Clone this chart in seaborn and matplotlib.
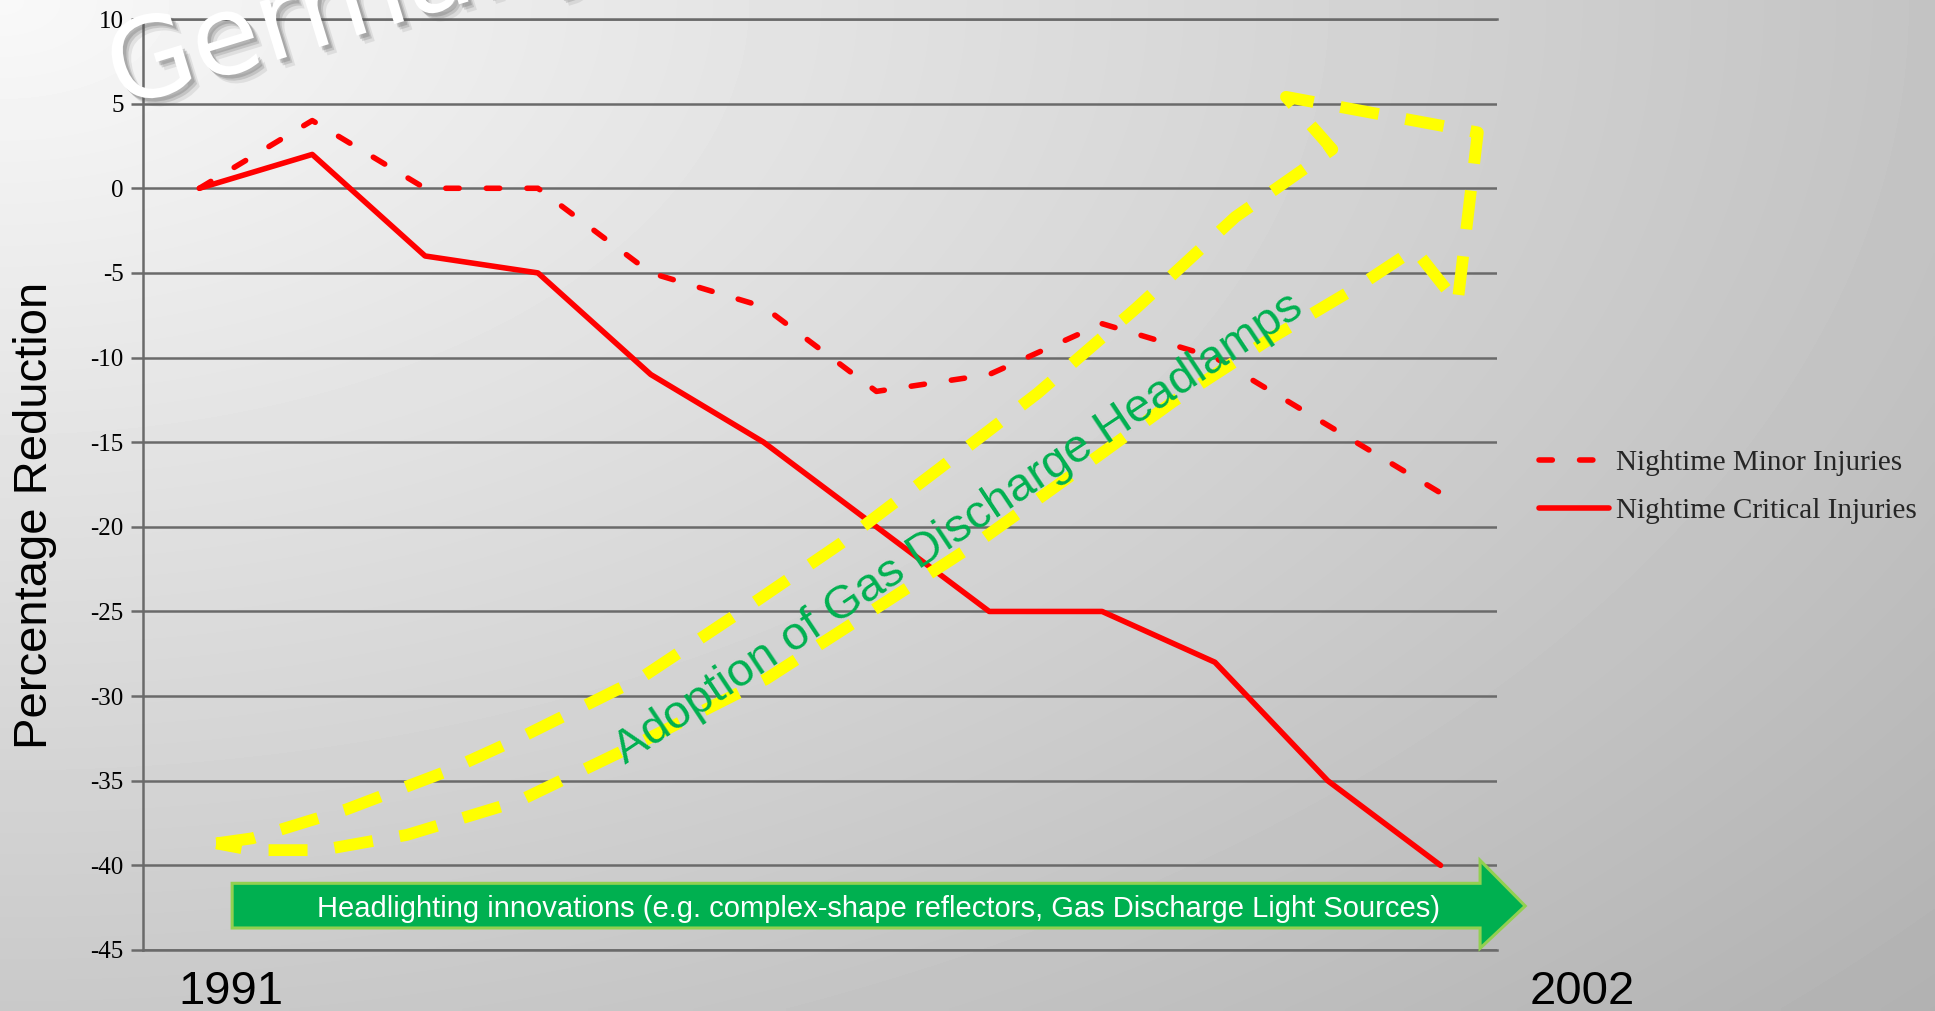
import numpy as np
import pandas as pd
import matplotlib
matplotlib.use("Agg")
import matplotlib.pyplot as plt
import matplotlib.patheffects as pe
from matplotlib.patches import Polygon, PathPatch
from matplotlib.path import Path
import seaborn as sns

# ---- data -------------------------------------------------------------
years = list(range(1991, 2003))
minor_injuries = [0, 4, 0, 0, -5, -7, -12, -11, -8, -10, -14, -18]
critical_injuries = [0, 2, -4, -5, -11, -15, -20, -25, -25, -28, -35, -40]
series_labels = ["Nightime Minor Injuries", "Nightime Critical Injuries"]
y_ticks = list(range(-45, 11, 5))
year_labels = ["1991", "2002"]
country = "Germany"
ylabel_text = "Percentage Reduction"
adoption_text = "Adoption of Gas Discharge Headlamps"
innovation_text = ("Headlighting innovations (e.g. complex-shape reflectors, "
                   "Gas Discharge Light Sources)")

df = pd.DataFrame({
    "year": years * 2,
    "value": minor_injuries + critical_injuries,
    "series": [series_labels[0]] * len(years) + [series_labels[1]] * len(years),
})

sns.set_theme(style="white")
plt.rcParams["font.family"] = ["Liberation Sans", "DejaVu Sans"]
plt.rcParams["axes.unicode_minus"] = False

W, H = 1935, 1011
fig = plt.figure(figsize=(W / 100, H / 100), dpi=100)

# ---- slide background: light radial gradient from the top-left corner ----
bg = fig.add_axes([0, 0, 1, 1], zorder=-10)
gx, gy = np.meshgrid(np.linspace(0, 1, 400), np.linspace(0, 1, 210))
dist = np.sqrt(gx ** 2 + (gy * 0.9) ** 2) / np.sqrt(1 + 0.81)
shade = 0.975 - 0.28 * dist
bg.imshow(shade, cmap="gray", vmin=0, vmax=1, aspect="auto",
          extent=[0, 1, 0, 1], origin="upper", interpolation="bilinear")
bg.set_axis_off()

# ---- main axes ----------------------------------------------------------
ax = fig.add_axes([143 / W, 1 - 950 / H, (1497 - 143) / W, (950 - 19) / H])
ax.patch.set_alpha(0)

red = "#ff0000"
for label, dash in zip(series_labels, [(2.4, 4.9), None]):
    sub = df[df["series"] == label]
    sns.lineplot(data=sub, x="year", y="value", ax=ax, color=red, lw=4.0,
                 label=label, zorder=3, legend=False)
    line = ax.lines[-1]
    line.set_solid_capstyle("round")
    line.set_dash_capstyle("round")
    line.set_solid_joinstyle("round")
    if dash is not None:
        line.set_dashes(dash)

ax.set_xlim(1990.5, 2002.5)
ax.set_ylim(-45, 10)
ax.set_yticks(y_ticks)
ax.set_xticks([])
ax.set_xlabel("")
ax.set_ylabel("")
grid_color = "#6a6a6a"
ax.yaxis.grid(True, color=grid_color, lw=1.8, zorder=1)
for side in ["top", "bottom", "left"]:
    ax.spines[side].set_color(grid_color)
    ax.spines[side].set_linewidth(1.8)
ax.spines["right"].set_visible(False)
ax.tick_params(axis="y", direction="out", length=9, width=1.8, color=grid_color,
               pad=5, labelsize=18, labelcolor="black", left=True)
for t in ax.get_yticklabels():
    t.set_fontfamily(["Liberation Serif", "DejaVu Serif"])

# ---- legend -------------------------------------------------------------
ax.legend(handles=ax.lines[:2], labels=series_labels, loc="center left",
          bbox_to_anchor=(1539 / W, 1 - 487 / H), bbox_transform=fig.transFigure,
          frameon=False, handlelength=2.4, handletextpad=0.25, borderpad=0,
          borderaxespad=0, labelspacing=0.73,
          prop={"family": ["Liberation Serif", "DejaVu Serif"], "size": 21})

# ---- green block arrow along the bottom --------------------------------
x0 = years[0] + 0.29
hb = years[0] + 11.35
tip = years[0] + 11.75
arrow = Polygon([(x0, -41.06), (hb, -41.06), (hb, -39.7), (tip, -42.4),
                 (hb, -44.9), (hb, -43.7), (x0, -43.7)], closed=True,
                facecolor="#00b050", edgecolor="#92d050", lw=2.2,
                clip_on=False, zorder=5)
ax.add_patch(arrow)
ax.text(years[0] + 6.02, -42.55, innovation_text, color="white", fontsize=21,
        ha="center", va="center", zorder=6)

# ---- curved dashed yellow arrow outline --------------------------------
outline = [
    (0.15, -38.7),
    (0.47, -38.4), (1.30, -36.7), (2.17, -34.5), (2.83, -32.5),
    (3.92, -28.9), (4.80, -25.0), (5.68, -21.0), (6.55, -16.6),
    (7.43, -12.1), (8.30, -7.1), (9.18, -1.7), (10.04, 2.3),
    (9.63, 5.4), (11.33, 3.3), (11.15, -6.8), (10.77, -3.6),
    (10.27, -5.8), (9.51, -8.8), (8.63, -12.6), (7.76, -16.8),
    (6.88, -21.0), (6.00, -24.8), (5.02, -29.0), (3.92, -32.7),
    (2.83, -36.2), (1.84, -38.2), (1.08, -39.1), (0.47, -39.1),
    (0.15, -38.7),
]
verts = [(years[0] + i, v) for i, v in outline]
codes = [Path.MOVETO] + [Path.LINETO] * (len(verts) - 1)
yellow = PathPatch(Path(verts, codes), facecolor="none", edgecolor="#ffff00",
                   lw=8.5, linestyle=(0, (3.3, 2.3)), capstyle="butt",
                   joinstyle="round", clip_on=False, zorder=4)
ax.add_patch(yellow)

ax.text(years[0] + 6.73, -20.1, adoption_text, color="#00b050", fontsize=34,
        rotation=33.6, rotation_mode="anchor", ha="center", va="center",
        zorder=7)

# ---- slide texts --------------------------------------------------------
fig.text(35 / W, 1 - 515 / H, ylabel_text, rotation=90, ha="center",
         va="center", fontsize=34, color="black")
fig.text(231 / W, 1 - 1004 / H, year_labels[0], ha="center", va="baseline",
         fontsize=34, color="black")
fig.text(1582 / W, 1 - 1004 / H, year_labels[1], ha="center", va="baseline",
         fontsize=34, color="black")

shadow = [pe.SimplePatchShadow(offset=(o, -o), shadow_rgbFace="0.35",
                               alpha=a) for o, a in [(6, 0.12), (4, 0.2), (2.5, 0.25)]]
fig.text(120 / W, 1 - 108 / H, country, rotation=17, rotation_mode="anchor",
         ha="left", va="baseline", fontsize=80, color="white", zorder=8,
         family=["DejaVu Sans"], path_effects=shadow + [pe.Normal()])

fig.savefig("out.png", dpi=100)
